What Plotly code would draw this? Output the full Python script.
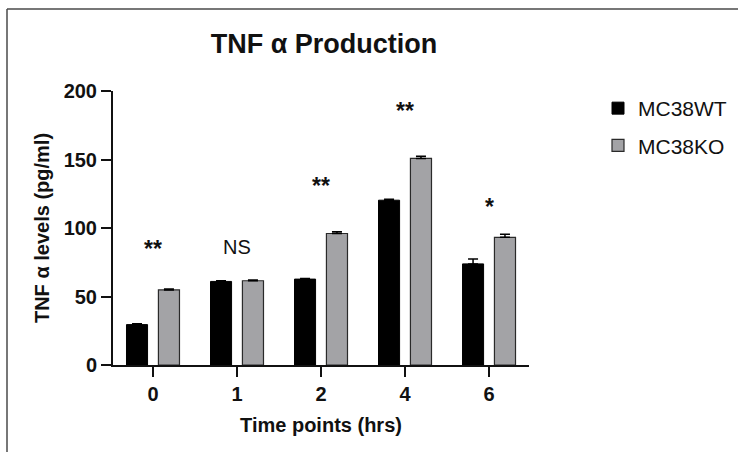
import plotly.graph_objects as go

# ---- data ----
time_points = ["0", "1", "2", "4", "6"]
wt_values = [29.5, 61.0, 62.7, 120.3, 73.8]
wt_errors = [0.6, 0.5, 0.5, 0.6, 3.5]
ko_values = [54.8, 61.5, 96.0, 150.8, 93.2]
ko_errors = [0.6, 0.5, 1.2, 1.6, 2.3]
sig_labels = ["**", "NS", "**", "**", "*"]
sig_y = [84.5, 86, 130.5, 185.5, 115.5]
y_ticks = [0, 50, 100, 150, 200]

W, H = 738, 452
L, R, T, B = 113, 209, 91, 87
PW, PH = W - L - R, H - T - B
FONT = "Liberation Sans, Arial, sans-serif"

def px_x(px):
    return (px - L) / PW

def px_y(py):
    return (H - B - py) / PH

fig = go.Figure()
fig.add_trace(go.Bar(
    x=time_points, y=wt_values, name="MC38WT", legendgroup="wt",
    marker=dict(color="#000000", line=dict(color="#000000", width=1)),
    error_y=dict(type="data", array=wt_errors, arrayminus=[0] * len(wt_errors),
                 symmetric=False, color="#000000", thickness=1.5, width=5),
))
fig.add_trace(go.Bar(
    x=time_points, y=ko_values, name="MC38KO", legendgroup="ko",
    marker=dict(color="#a3a3a6", line=dict(color="#2a2a2a", width=1.2)),
    error_y=dict(type="data", array=ko_errors, arrayminus=[0] * len(ko_errors),
                 symmetric=False, color="#000000", thickness=1.5, width=5),
))

# significance marks, placed by category index on the category axis
for idx, (lab, yv) in enumerate(zip(sig_labels, sig_y)):
    is_star = "*" in lab
    fig.add_annotation(
        x=idx, y=yv, xref="x", yref="y", text=lab, showarrow=False,
        yanchor="middle",
        font=dict(family=FONT, size=23 if is_star else 20, color="#111111",
                  weight="bold" if is_star else "normal"),
    )

# thin frame lines (left and top) of the cropped figure
fig.add_shape(type="line", xref="paper", yref="paper",
              x0=px_x(7), x1=px_x(738), y0=px_y(9), y1=px_y(9),
              line=dict(color="#4a4a4a", width=1.5))
fig.add_shape(type="line", xref="paper", yref="paper",
              x0=px_x(7), x1=px_x(7), y0=px_y(9), y1=px_y(452),
              line=dict(color="#4a4a4a", width=1.5))

fig.update_layout(
    width=W, height=H,
    margin=dict(l=L, r=R, t=T, b=B, autoexpand=False),
    paper_bgcolor="white", plot_bgcolor="white",
    barmode="group", bargap=0.24, bargroupgap=0.34,
    title=dict(text="TNF α Production", x=px_x(324), xref="paper", xanchor="center",
               y=1 - 44 / H, yanchor="middle",
               font=dict(family=FONT, size=27, color="#111111", weight="bold")),
    xaxis=dict(
        type="category", range=[-0.476, 4.476],
        showline=True, linecolor="#111111", linewidth=2,
        ticks="outside", ticklen=10, tickwidth=2, tickcolor="#111111",
        tickfont=dict(family=FONT, size=20, color="#111111", weight="bold"),
        title=dict(text="Time points (hrs)", standoff=14,
                   font=dict(family=FONT, size=20, color="#111111", weight="bold")),
        showgrid=False, zeroline=False, fixedrange=True,
    ),
    yaxis=dict(
        range=[0, 200], tickvals=y_ticks,
        showline=True, linecolor="#111111", linewidth=2,
        ticks="outside", ticklen=10, tickwidth=2, tickcolor="#111111",
        tickfont=dict(family=FONT, size=20, color="#111111", weight="bold"),
        title=dict(text="TNF α levels (pg/ml)", standoff=9,
                   font=dict(family=FONT, size=20, color="#111111", weight="bold")),
        showgrid=False, zeroline=False, fixedrange=True,
    ),
    legend=dict(x=px_x(598), y=px_y(88), xanchor="left", yanchor="top",
                font=dict(family=FONT, size=21, color="#111111"),
                tracegroupgap=7, traceorder="grouped", bgcolor="rgba(0,0,0,0)"),
)

fig.write_html("out.html", config={"displayModeBar": False},
               post_script="document.body.style.margin='0';")
